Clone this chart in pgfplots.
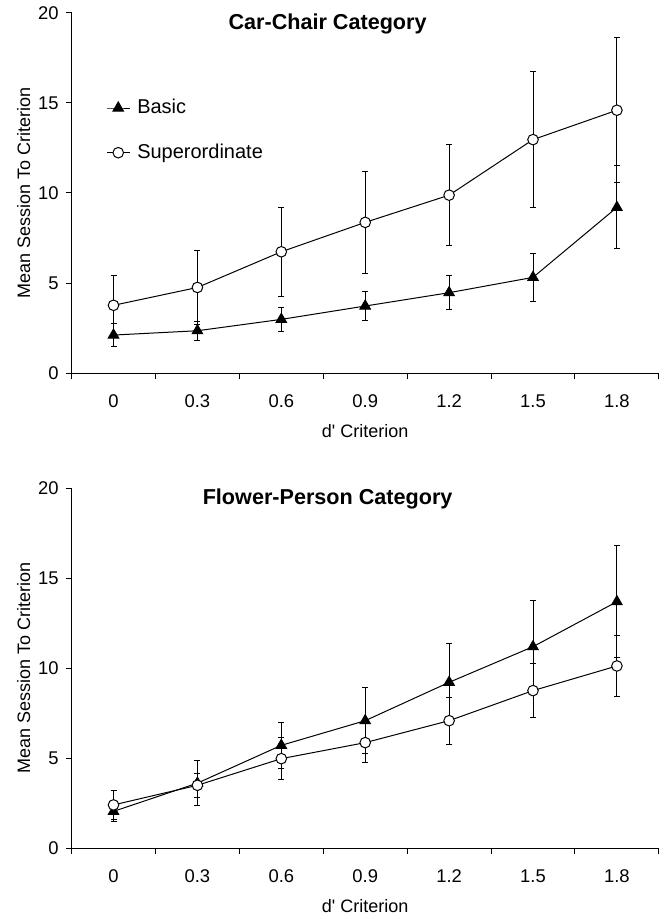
\documentclass[border=0pt]{standalone}
\usepackage{pgfplots}
\pgfplotsset{compat=1.18}
\usepackage{fontspec}
\setmainfont{Liberation Sans}
\begin{document}
\pgfplotsset{
  panel/.style={
    anchor=south west, scale only axis, width=293.65pt,
    xmin=-0.5, xmax=6.5, ymin=0, ymax=20,
    axis lines=left, axis line style={-, line width=0.5pt, black},
    xtick={-0.5,0.5,1.5,2.5,3.5,4.5,5.5,6.5},
    xticklabels={0,0.3,0.6,0.9,1.2,1.5,1.8,{}},
    x tick label style={xshift=20.98pt, yshift=-4pt},
    ytick={0,5,10,15,20},
    tick align=outside, major tick length=3pt,
    tick style={black, line width=0.5pt},
    /pgf/number format/assume math mode=true,
    tick label style={font=\fontsize{9.2}{11}\selectfont},
    xlabel={d\textquotesingle{} Criterion},
    xlabel style={at={(axis description cs:0.5,0)}, anchor=center, yshift=-28.75pt, font=\fontsize{9}{11}\selectfont},
    ylabel={Mean Session To Criterion},
    ylabel style={at={(axis description cs:-0.0817,0.5)}, anchor=center, font=\fontsize{9}{11}\selectfont},
    clip=false,
  },
  basic/.style={black, line width=0.5pt, mark=triangle*, mark size=3.1pt,
    mark options={fill=black, draw=black, line width=0.4pt},
    error bars/.cd, y dir=both, y explicit,
    error bar style={black, line width=0.5pt},
    error mark options={rotate=90, black, mark size=1.5pt, line width=0.5pt}},
  super/.style={black, line width=0.5pt, mark=*, mark size=2.65pt,
    mark options={fill=white, draw=black, line width=0.5pt},
    error bars/.cd, y dir=both, y explicit,
    error bar style={black, line width=0.5pt},
    error mark options={rotate=90, black, mark size=1.5pt, line width=0.5pt}},
}
\begin{tikzpicture}
\path[use as bounding box] (0,0) rectangle (330.5pt,459.5pt);
\begin{axis}[panel, at={(33pt,272.85pt)}, height=180.3pt,
  legend style={at={(axis description cs:0.0613,0.6737)}, anchor=west, xshift=-0.85pt, draw=none, fill=none,
    inner sep=0pt, row sep=12.85pt, column sep=3.5pt,
    nodes={inner sep=0pt, text height=7.5pt, text depth=2pt},
    font=\fontsize{10}{12}\selectfont},
  legend cell align=left,
  legend image code/.code={\draw[mark repeat=2,mark phase=2,#1] plot coordinates {(0pt,0pt) (5.75pt,0pt) (11.5pt,0pt)};},
]
\addplot[basic] coordinates {
 (0,2.12) +- (0,0.65)
 (1,2.36) +- (0,0.53)
 (2,2.99) +- (0,0.66)
 (3,3.73) +- (0,0.78)
 (4,4.47) +- (0,0.95)
 (5,5.32) +- (0,1.33)
 (6,9.20) +- (0,2.30)
};
\addlegendentry{Basic}
\addplot[super] coordinates {
 (0,3.77) +- (0,1.68)
 (1,4.76) +- (0,2.03)
 (2,6.74) +- (0,2.48)
 (3,8.37) +- (0,2.83)
 (4,9.88) +- (0,2.79)
 (5,12.96) +- (0,3.77)
 (6,14.59) +- (0,4.03)
};
\addlegendentry{Superordinate}
\node[font=\fontsize{10.8}{13}\selectfont\bfseries, anchor=center] at (axis description cs:0.436,0.970) {Car-Chair Category};
\end{axis}
\begin{axis}[panel, at={(33pt,35.35pt)}, height=180pt]
\addplot[basic] coordinates {
 (0,2.05) +- (0,0.55)
 (1,3.62) +- (0,1.25)
 (2,5.72) +- (0,1.26)
 (3,7.09) +- (0,1.85)
 (4,9.22) +- (0,2.15)
 (5,11.20) +- (0,2.58)
 (6,13.70) +- (0,3.10)
};
\addplot[super] coordinates {
 (0,2.41) +- (0,0.80)
 (1,3.50) +- (0,0.67)
 (2,4.98) +- (0,1.15)
 (3,5.87) +- (0,1.11)
 (4,7.09) +- (0,1.31)
 (5,8.76) +- (0,1.48)
 (6,10.13) +- (0,1.70)
};
\node[font=\fontsize{10.8}{13}\selectfont\bfseries, anchor=center] at (axis description cs:0.436,0.970) {Flower-Person Category};
\end{axis}
\end{tikzpicture}
\end{document}
